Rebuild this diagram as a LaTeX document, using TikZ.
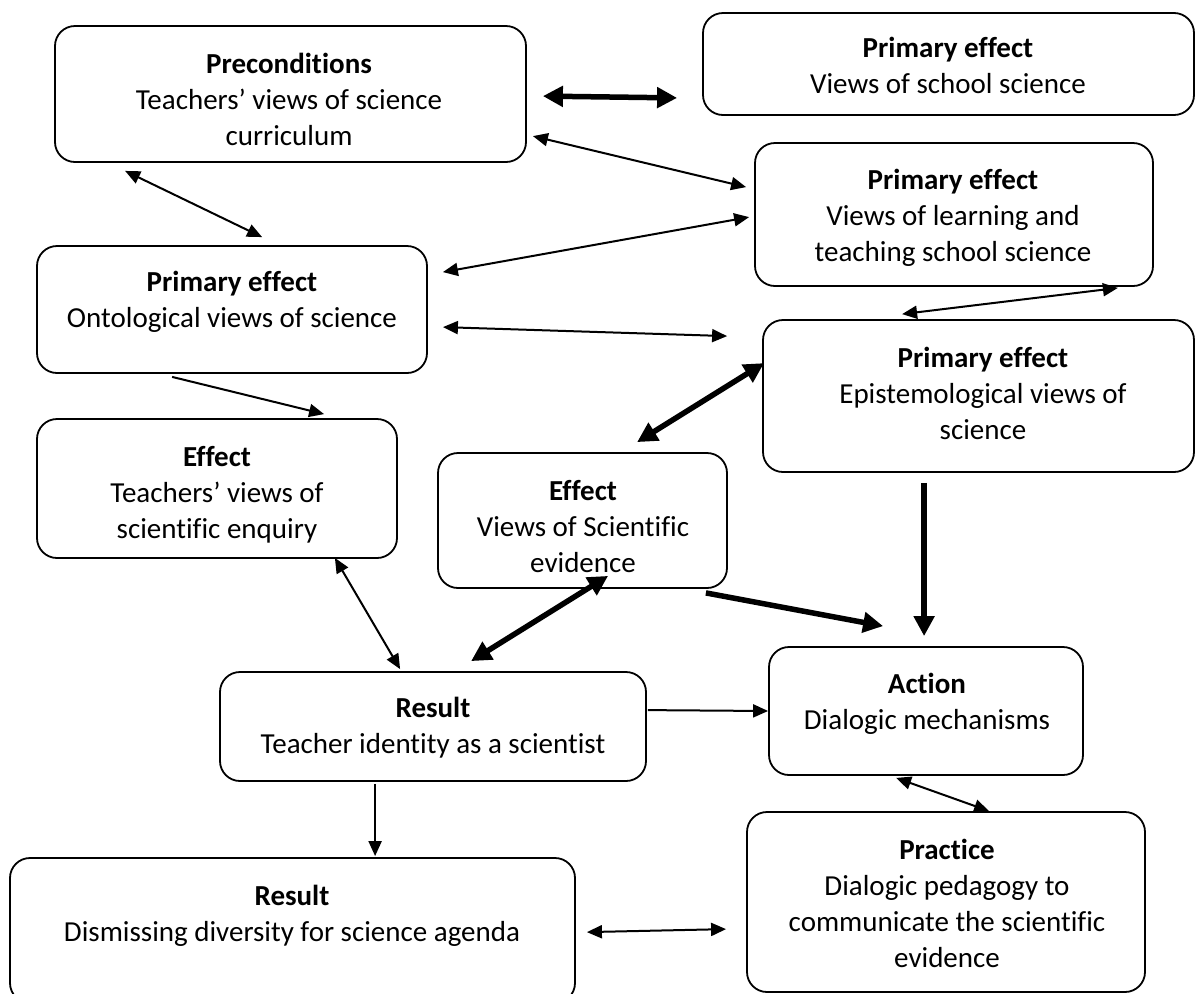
\documentclass[tikz,border=0pt]{standalone}
\usepackage{fontspec}
\setmainfont{Carlito}[Ligatures=NoCommon]
\usetikzlibrary{arrows.meta,calc}
\begin{document}
\begin{tikzpicture}[x=1pt,y=-1pt,
  box/.style={draw, line width=1.8pt, rounded corners=20pt, inner sep=0pt},
  txt/.style={align=center, inner sep=0pt, yshift=-5.5pt, font=\fontsize{29}{36}\selectfont,
    execute at begin node=\strut, execute at end node=\strut},
  thinar/.style={line width=2pt, -{Triangle[length=15pt,width=13pt]}},
  thindbl/.style={line width=2pt, {Triangle[length=15pt,width=13pt]}-{Triangle[length=15pt,width=13pt]}},
  thickar/.style={line width=5.5pt, -{Triangle[length=20pt,width=20pt]}},
  thickdbl/.style={line width=5.5pt, {Triangle[length=20pt,width=20pt]}-{Triangle[length=20pt,width=20pt]}}
]
\path[use as bounding box, clip] (0,0) rectangle (1195,994);

% boxes
\node[box, minimum width=471pt, minimum height=136pt] (pre)    at (290.5,94) {};
\node[box, minimum width=491pt, minimum height=102pt] (school) at (948.5,64) {};
\node[box, minimum width=398pt, minimum height=143pt] (learn)  at (954,214.5) {};
\node[box, minimum width=390pt, minimum height=127pt] (onto)   at (232,309.5) {};
\node[box, minimum width=431pt, minimum height=152pt] (epi)    at (978.5,396) {};
\node[box, minimum width=360pt, minimum height=139pt] (enq)    at (217,488.5) {};
\node[box, minimum width=289pt, minimum height=135pt] (evid)   at (582.5,520.5) {};
\node[box, minimum width=426pt, minimum height=109pt] (res)    at (433,726.5) {};
\node[box, minimum width=314pt, minimum height=128pt] (act)    at (926,711) {};
\node[box, minimum width=565pt, minimum height=145pt] (dis)    at (292.5,930.5) {};
\node[box, minimum width=398pt, minimum height=180pt] (prac)   at (946,902) {};

% texts
\node[txt] (pre-t)    at (289,99)    {\textbf{Preconditions}\\Teachers’ views of science\\curriculum};
\node[txt] (school-t) at (948,65)    {\textbf{Primary effect}\\Views of school science};
\node[txt] (learn-t)  at (953,215)   {\textbf{Primary effect}\\Views of learning and\\teaching school science};
\node[txt] (onto-t)   at (232,299.5) {\textbf{Primary effect}\\Ontological views of science};
\node[txt] (epi-t)    at (983,393)   {\textbf{Primary effect}\\Epistemological views of\\science};
\node[txt] (enq-t)    at (217,492)   {\textbf{Effect}\\Teachers’ views of\\scientific enquiry};
\node[txt] (evid-t)   at (583,526)   {\textbf{Effect}\\Views of Scientific\\evidence};
\node[txt] (res-t)    at (433,725)   {\textbf{Result}\\Teacher identity as a scientist};
\node[txt] (act-t)    at (927,701.5) {\textbf{Action}\\Dialogic mechanisms};
\node[txt] (dis-t)    at (292,913.5) {\textbf{Result}\\Dismissing diversity for science agenda};
\node[txt] (prac-t)   at (947,903.5) {\textbf{Practice}\\Dialogic pedagogy to\\communicate the scientific\\evidence};

% connectors
\draw[thickdbl] ($(pre.north east)+(16,71)$) -- ($(school.south west)+(-25,-18)$);
\draw[thindbl]  ($(pre.north east)+(6,111)$) -- ($(learn.north west)+(-8,45)$);
\draw[thindbl]  ($(pre.south west)+(71,8)$) -- ($(onto.north west)+(226,-8)$);
\draw[thindbl]  ($(onto.north east)+(15,27)$) -- ($(learn.north west)+(-5,75)$);
\draw[thindbl]  ($(learn.south east)+(-36,1)$) -- ($(epi.north west)+(140,-5)$);
\draw[thindbl]  ($(onto.north east)+(15,82)$) -- ($(epi.north west)+(-35,17)$);
\draw[thinar]   ($(onto.south west)+(136,3)$) -- ($(enq.north west)+(288,-4)$);
\draw[thickdbl] ($(evid.north west)+(200,-10)$) -- ($(epi.north west)+(2,44)$);
\draw[thickar]  ($(epi.south west)+(162,10)$) -- ($(act.north west)+(156,-10)$);
\draw[thickar]  ($(evid.south east)+(-22,4)$) -- ($(act.north west)+(115,-20)$);
\draw[thickdbl] ($(evid.south west)+(171,-13)$) -- ($(res.north west)+(252,-10)$);
\draw[thindbl]  ($(enq.south east)+(-63,-1)$) -- ($(res.north west)+(181,-2)$);
\draw[thinar]   ($(res.north east)+(1,39)$) -- (act.west);
\draw[thinar]   ($(res.south west)+(156,2)$) -- ($(dis.north west)+(366,-1)$);
\draw[thindbl]  ($(act.south west)+(128,2)$) -- ($(prac.north west)+(243,0)$);
\draw[thindbl]  ($(dis.north east)+(11,75)$) -- ($(prac.north west)+(-20,118)$);
\end{tikzpicture}
\end{document}
